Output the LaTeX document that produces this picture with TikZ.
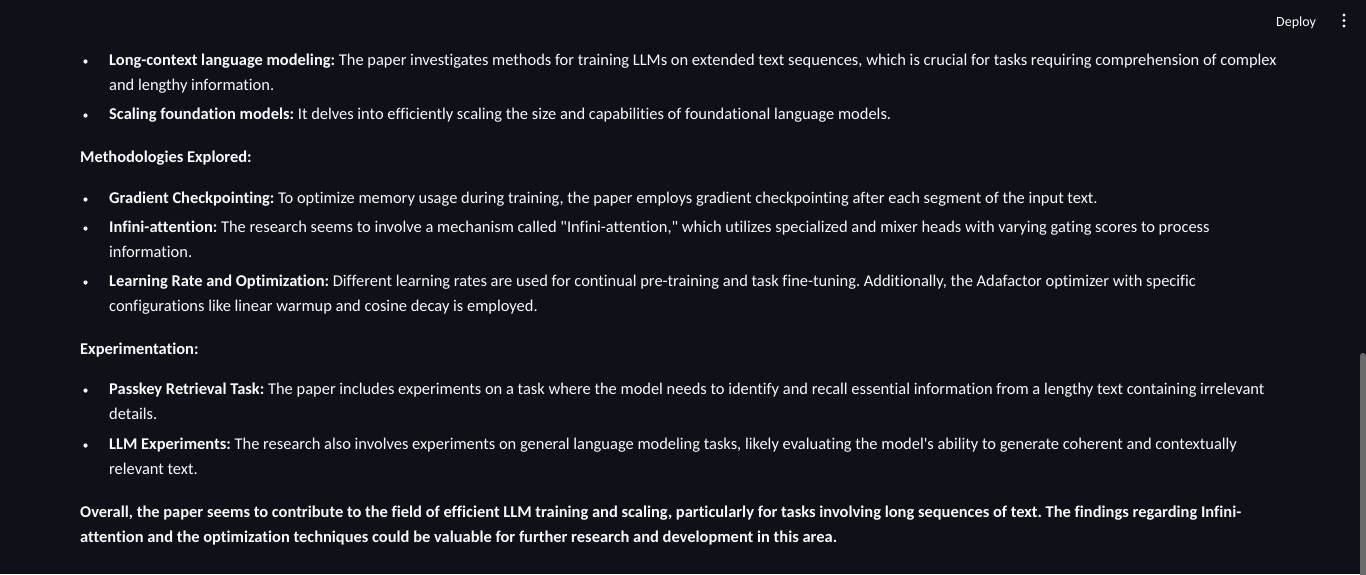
\documentclass[tikz,border=0pt]{standalone}
\usepackage{fontspec}
\setmainfont[Ligatures={NoCommon}]{Carlito}
\definecolor{pagebg}{HTML}{0E1117}
\definecolor{pagefg}{HTML}{FAFAFA}
\definecolor{scrollgray}{HTML}{6B6B6B}
\tikzset{
	line/.style={anchor=base west, inner sep=0pt, text=pagefg, font=\fontsize{16.45}{19}\selectfont},
	dot/.style={circle, fill=pagefg, inner sep=0pt, minimum size=4.2pt}
}
\newcommand{\lbl}[1]{\textbf{#1}}
\frenchspacing
\begin{document}
\begin{tikzpicture}[x=1pt, y=-1pt]
\fill[pagebg] (0,0) rectangle (1366,574);
\useasboundingbox (0,0) rectangle (1366,574);
% header
\node[line, font=\fontsize{14}{17}\selectfont] (deploy) at (1276,26) {Deploy};
\foreach \dy [count=\i] in {15,20.5,26}
	\node[dot, minimum size=3.2pt] (menu\i) at (1344,\dy) {};
% scrollbar
\fill[scrollgray, rounded corners=3pt] (1360,353) rectangle (1366,580);
% first list
\node[dot] (b1) at (85.5,61.5) {};
\node[line] (l1) at (109,65) {\lbl{Long-context language modeling:} The paper investigates methods for training LLMs on extended text sequences, which is crucial for tasks requiring comprehension of complex};
\node[line] (l1b) at (109,90) {and lengthy information.};
\node[dot] (b2) at (85.5,115.5) {};
\node[line] (l2) at (109,119) {\lbl{Scaling foundation models:} It delves into efficiently scaling the size and capabilities of foundational language models.};
% methodologies
\node[line] (h1) at (80,162) {\lbl{Methodologies Explored:}};
\node[dot] (b3) at (85.5,199.5) {};
\node[line] (l3) at (109,203) {\lbl{Gradient Checkpointing:} To optimize memory usage during training, the paper employs gradient checkpointing after each segment of the input text.};
\node[dot] (b4) at (85.5,228.5) {};
\node[line] (l4) at (109,232) {\lbl{Infini-attention:} The research seems to involve a mechanism called \textquotedbl Infini-attention,\textquotedbl{} which utilizes specialized and mixer heads with varying gating scores to process};
\node[line] (l4b) at (109,257) {information.};
\node[dot] (b5) at (85.5,282.5) {};
\node[line] (l5) at (109,286) {\lbl{Learning Rate and Optimization:} Different learning rates are used for continual pre-training and task fine-tuning. Additionally, the Adafactor optimizer with specific};
\node[line] (l5b) at (109,311) {configurations like linear warmup and cosine decay is employed.};
% experimentation
\node[line] (h2) at (80,354) {\lbl{Experimentation:}};
\node[dot] (b6) at (85.5,390.5) {};
\node[line] (l6) at (109,394) {\lbl{Passkey Retrieval Task:} The paper includes experiments on a task where the model needs to identify and recall essential information from a lengthy text containing irrelevant};
\node[line] (l6b) at (109,419) {details.};
\node[dot] (b7) at (85.5,445.5) {};
\node[line] (l7) at (109,449) {\lbl{LLM Experiments:} The research also involves experiments on general language modeling tasks, likely evaluating the model\textquotesingle s ability to generate coherent and contextually};
\node[line] (l7b) at (109,474) {relevant text.};
% summary
\node[line, font=\fontsize{16.45}{19}\selectfont\bfseries] (s1) at (80,517) {Overall, the paper seems to contribute to the field of efficient LLM training and scaling, particularly for tasks involving long sequences of text. The findings regarding Infini-};
\node[line, font=\fontsize{16.45}{19}\selectfont\bfseries] (s2) at (80,542) {attention and the optimization techniques could be valuable for further research and development in this area.};
\end{tikzpicture}
\end{document}
